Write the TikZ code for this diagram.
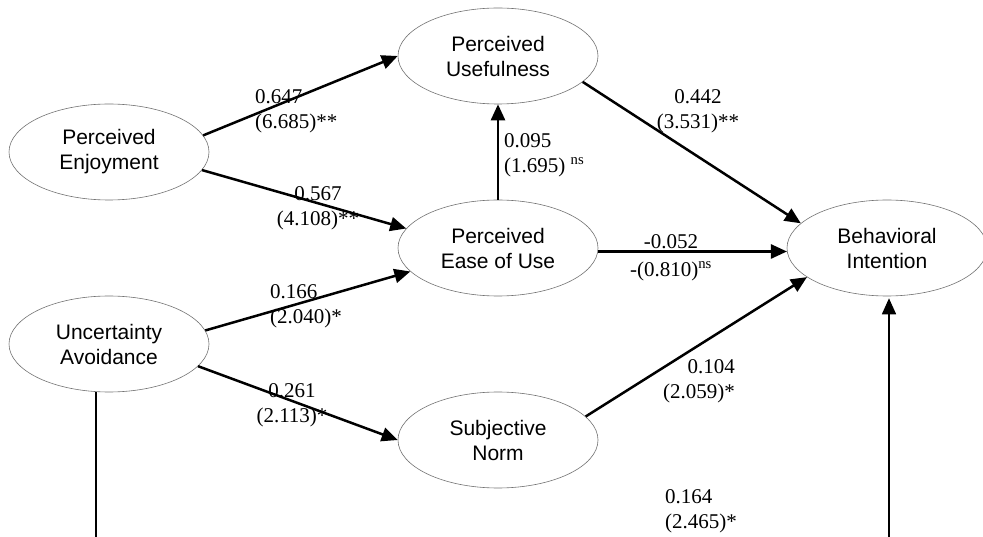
\documentclass[tikz,border=0pt]{standalone}
\usepackage{fontspec}
\setmainfont{Liberation Serif}
\setsansfont{Liberation Sans}
\usetikzlibrary{positioning}
\usetikzlibrary{shapes.geometric}
\usetikzlibrary{arrows.meta}

\tikzset{
  construct/.style={draw=black!55,line width=0.6pt,ellipse,minimum width=200pt,minimum height=96pt,inner sep=0pt,align=center,font=\sffamily\fontsize{21}{25}\selectfont},
  effect/.style={line width=2.5pt},
  link/.style={line width=1.6pt},
  coef/.style={inner sep=0pt,font=\fontsize{21}{25}\selectfont}
}

\begin{document}
\begin{tikzpicture}[x=1pt,y=-1pt,node distance=96pt and 389pt,on grid,>={Triangle[length=16pt,width=14pt]}]
        \useasboundingbox[fill=white] (0,0) rectangle (983,537);
        \node[construct] (pe) at (109,152) {Perceived\\Enjoyment};
        \node[construct] (pu) [above right=of pe] {Perceived\\Usefulness};
        \node[construct] (peou) [below right=of pe] {Perceived\\Ease of Use};
        \node[construct] (bi) [right=of peou] {Behavioral\\Intention};
        \node[construct] (ua) [below=192pt of pe] {Uncertainty\\Avoidance};
        \node[construct] (sn) [below right=of ua] {Subjective\\Norm};
        \coordinate (ua-foot) at (96,537);
        \coordinate (bi-foot) at (889,537);
        \draw[effect,->] (pe.10) to (pu.west);
        \draw[effect,->] (pe.-11) to (peou.168);
        \draw[effect,->] (peou) to (pu);
        \draw[effect,->] (pu.-17) to (bi.164);
        \draw[effect,->] (peou.-2) to (bi.182);
        \draw[effect,->] (ua.8) to (peou.195);
        \draw[effect,->] (ua.-14) to (sn.west);
        \draw[effect,->] (sn.15) to (bi.200);
        \draw[link] (ua.south -| ua-foot) to (ua-foot);
        \draw[link,->] (bi-foot) to ([yshift=-2pt]bi-foot |- bi.south);
        \node[coef,anchor=north west,align=left] (c-pe-pu) at (255,89) {0.647\\(6.685)**};
        \node[coef,anchor=north,align=center] (c-pe-peou) at (318,186) {0.567\\(4.108)**};
        \node[coef,anchor=north west,align=left] (c-peou-pu) at (504,133) {0.095\\(1.695) \textsuperscript{ns}};
        \node[coef,anchor=north,align=center] (c-pu-bi) at (698,89) {0.442\\(3.531)**};
        \node[coef,anchor=north,align=center] (c-peou-bi) at (671,234) {-0.052\\[3pt]-(0.810)\textsuperscript{ns}};
        \node[coef,anchor=north west,align=left] (c-ua-peou) at (270,284) {0.166\\(2.040)*};
        \node[coef,anchor=north,align=center] (c-ua-sn) at (292,383) {0.261\\(2.113)*};
        \node[coef,anchor=north east,align=right] (c-sn-bi) at (735,359) {0.104\\(2.059)*};
        \node[coef,anchor=north west,align=left] (c-ua-bi) at (665,489) {0.164\\(2.465)*};
      \end{tikzpicture}
\end{document}
